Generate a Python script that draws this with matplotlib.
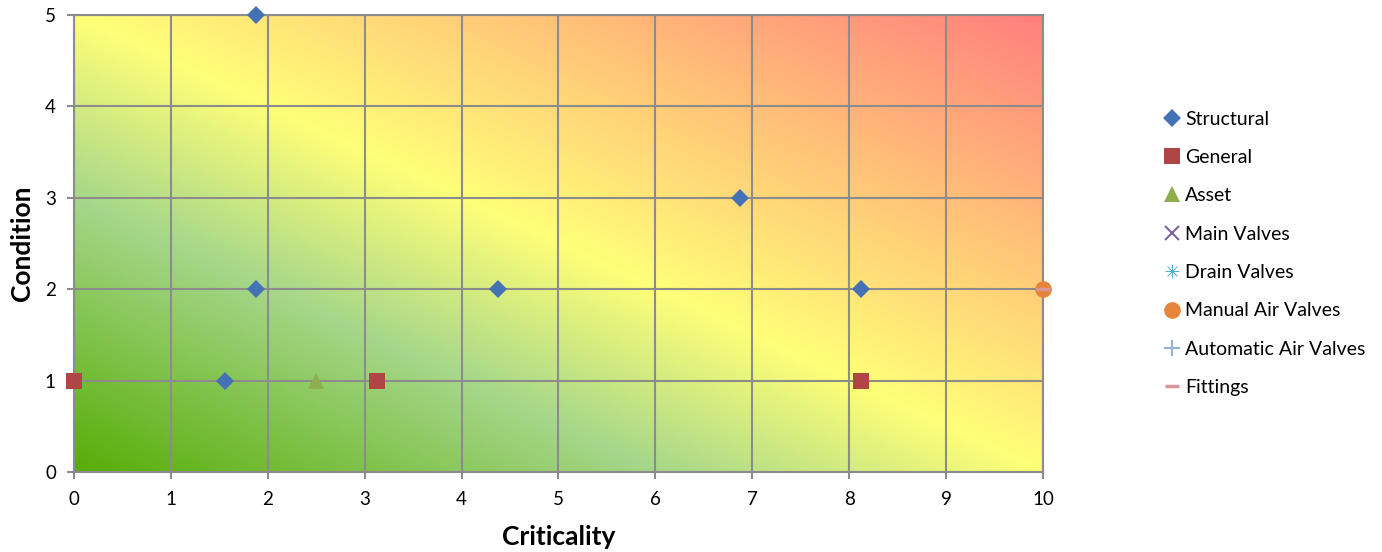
from matplotlib import pyplot as plt
from matplotlib.colors import LinearSegmentedColormap
import numpy as np

# Criticality (x) / condition (y) of each asset group
structural_x = [1.875, 1.875, 1.5625, 4.375, 6.875, 8.125]
structural_y = [5, 2, 1, 2, 3, 2]
general_x = [0, 3.125, 8.125]
general_y = [1, 1, 1]
asset_x = [2.5]
asset_y = [1]
main_valves_x = []
main_valves_y = []
drain_valves_x = []
drain_valves_y = []
manual_air_x = [10]
manual_air_y = [2]
auto_air_x = []
auto_air_y = []
fittings_x = [10]
fittings_y = [2]

x_ticks = list(range(0, 11))
y_ticks = list(range(0, 6))

plt.rcParams['font.family'] = ['Lato', 'DejaVu Sans']

fig = plt.figure(figsize=(13.82, 5.52), dpi=100)
ax = fig.add_axes([0.0535, 0.1449, 0.7012, 0.8279])

# Risk background: green (low) -> yellow -> red (high) along the diagonal
risk = LinearSegmentedColormap.from_list('risk', [
    (0.0, '#58ad08'),
    (0.3, '#a6d78a'),
    (0.5, '#ffff78'),
    (0.75, '#ffc078'),
    (1.0, '#ff7f7f'),
])
u, v = np.meshgrid(np.linspace(0, 1, 400), np.linspace(0, 1, 200))
ax.imshow((u + v) / 2, cmap=risk, origin='lower', extent=[0, 1, 0, 1],
          transform=ax.transAxes, aspect='auto', zorder=0,
          interpolation='bilinear')

series = [
    (structural_x, structural_y, 'Structural', 'D', '#4472b4', 9),
    (general_x, general_y, 'General', 's', '#b04545', 11),
    (asset_x, asset_y, 'Asset', '^', '#8fae4c', 11),
    (main_valves_x, main_valves_y, 'Main Valves', 'x', '#8064a2', 10),
    (drain_valves_x, drain_valves_y, 'Drain Valves', '$\u2733$', '#4bacc6', 10),
    (manual_air_x, manual_air_y, 'Manual Air Valves', 'o', '#e5843a', 12),
    (auto_air_x, auto_air_y, 'Automatic Air Valves', '+', '#95b3d7', 11),
    (fittings_x, fittings_y, 'Fittings', '_', '#d99694', 10),
]
for xs, ys, name, mk, col, sz in series:
    if mk in ('x', '+', '_'):
        ax.plot(xs, ys, linestyle='none', marker=mk, color=col, markersize=sz,
                markeredgewidth=2.5 if mk == '_' else 1.5,
                label=name, clip_on=False, zorder=3)
    else:
        ax.plot(xs, ys, linestyle='none', marker=mk, color=col, markersize=sz,
                markeredgewidth=0, label=name, clip_on=False, zorder=3)

ax.set_xlim(0, 10)
ax.set_ylim(0, 5)
ax.set_xticks(x_ticks)
ax.set_yticks(y_ticks)
ax.set_axisbelow(True)
ax.grid(True, color='#8c8c8c', linewidth=1.5, zorder=1)
for s in ax.spines.values():
    s.set_color('#8c8c8c')
    s.set_linewidth(1.5)
ax.tick_params(colors='#8c8c8c', labelcolor='black', labelsize=13.5,
               length=5, width=1.5)
ax.tick_params(axis='x', pad=9)
ax.tick_params(axis='y', pad=8)

ax.set_xlabel('Criticality', fontsize=19, fontweight='bold', labelpad=12)
ax.set_ylabel('Condition', fontsize=19, fontweight='bold', labelpad=8)

fig.legend(loc='center left', bbox_to_anchor=(0.835, 0.541), frameon=False,
           fontsize=14, labelspacing=1.1, handletextpad=0.1,
           handlelength=1.1, borderaxespad=0)

plt.savefig('out.png', dpi=100)
